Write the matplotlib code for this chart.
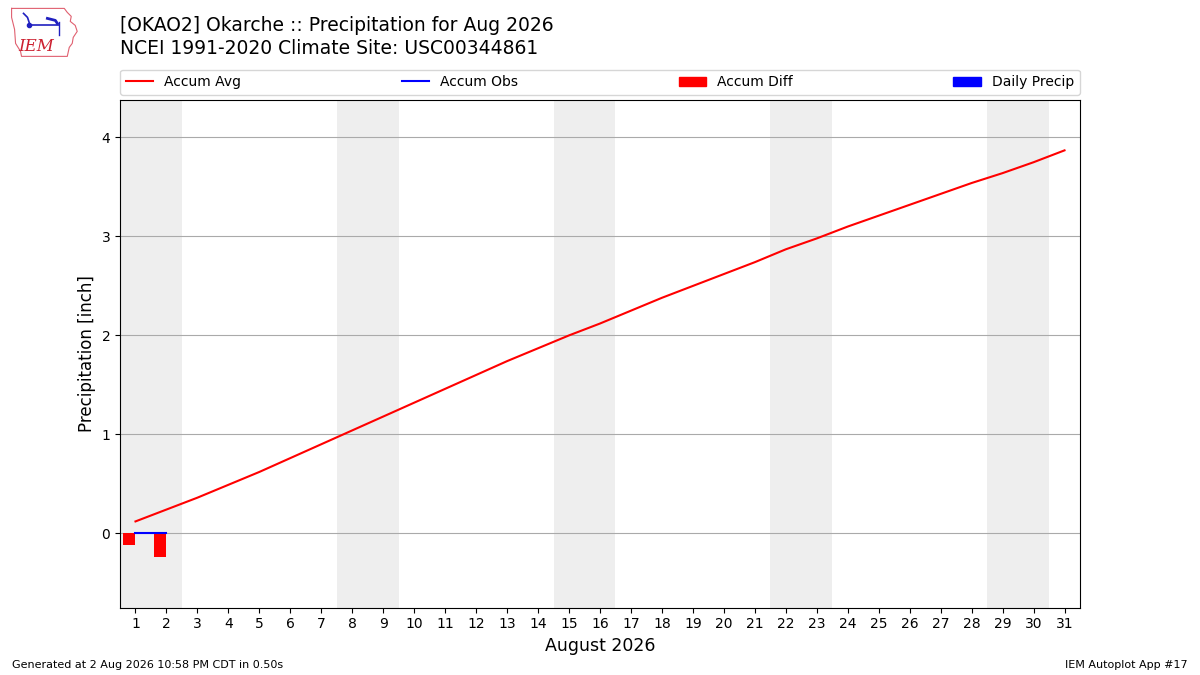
import numpy as np
import matplotlib.pyplot as plt
from matplotlib.patches import Patch
from matplotlib.lines import Line2D

days = np.arange(1, 32)
accum_avg = [0.12, 0.24, 0.36, 0.49, 0.62, 0.76, 0.90, 1.04, 1.18, 1.32,
             1.46, 1.60, 1.74, 1.87, 2.00, 2.12, 2.25, 2.38, 2.50, 2.62,
             2.74, 2.87, 2.98, 3.10, 3.21, 3.32, 3.43, 3.54, 3.64, 3.75,
             3.87]
obs_days = [1, 2]
daily_precip = [0.0, 0.0]
accum_obs = [0.0, 0.0]
accum_diff = [-0.12, -0.24]
weekends = [1, 8, 15, 22, 29]  # saturdays

fig = plt.figure(figsize=(12, 6.75), dpi=100)
ax = fig.add_axes([0.1, 0.1, 0.8, 0.752])

for sat in weekends:
    ax.axvspan(sat - 0.5, sat + 1.5, color='#eeeeee', zorder=0, lw=0)

ax.bar(np.array(obs_days) - 0.4, accum_diff, width=0.4, align='edge',
       color='r', zorder=2)
ax.bar(obs_days, daily_precip, width=0.4, align='edge', color='b', zorder=2)
ax.plot(days, accum_avg, color='r', lw=1.5, zorder=3)
ax.plot(obs_days, accum_obs, color='b', lw=1.5, zorder=3)

ax.set_xlim(0.5, 31.5)
ax.set_ylim(-0.75, 4.38)
ax.set_xticks(days)
ax.set_yticks([0, 1, 2, 3, 4])
ax.tick_params(labelsize=10)
ax.grid(axis='y', color='#aaaaaa', lw=0.8, zorder=1)
ax.set_axisbelow(True)
ax.set_ylabel('Precipitation [inch]', fontsize=12)
ax.set_xlabel('August 2026', fontsize=12.5)

handles = [Line2D([], [], color='r', lw=1.5), Line2D([], [], color='b', lw=1.5),
           Patch(color='r'), Patch(color='b')]
labels = ['Accum Avg', 'Accum Obs', 'Accum Diff', 'Daily Precip']
ax.legend(handles, labels, ncol=4, mode='expand', loc='lower left',
          bbox_to_anchor=(0, 1.01, 1, 0.05), borderaxespad=0, fontsize=10)

fig.text(0.1, 0.962, '[OKAO2] Okarche :: Precipitation for Aug 2026',
         fontsize=13.5, va='center')
fig.text(0.1, 0.928, 'NCEI 1991-2020 Climate Site: USC00344861',
         fontsize=13.5, va='center')
fig.text(0.01, 0.015, 'Generated at 2 Aug 2026 10:58 PM CDT in 0.50s',
         fontsize=8, va='center')
fig.text(0.99, 0.015, 'IEM Autoplot App #17', fontsize=8, va='center',
         ha='right')

# rough logo
lax = fig.add_axes([0.008, 0.915, 0.058, 0.077])
lax.set_xlim(0, 70)
lax.set_ylim(52, 0)
lax.axis('off')
ox = [2, 55, 58, 62, 61, 66, 68, 64, 63, 60, 58, 12, 11, 6, 5, 2, 2]
oy = [3, 3, 7, 11, 16, 20, 26, 32, 38, 42, 51, 51, 46, 38, 24, 12, 3]
lax.plot(ox, oy, color='#e06070', lw=0.8)
lax.plot([14, 18, 20], [8, 12, 18], color='#2020c0', lw=1.2)
lax.plot([22, 50], [20, 20], color='#2020c0', lw=1.2)
lax.plot([20], [20], 'o', color='#2020c0', ms=3)
lax.plot([38, 46, 48], [13, 15, 18], color='#2020c0', lw=2)
lax.plot([50, 50], [17, 30], color='#2020c0', lw=1.0)
lax.text(27, 41, 'IEM', color='#cc2030', fontsize=12, style='italic',
         family='serif', ha='center', va='center')

fig.savefig('out.png')
